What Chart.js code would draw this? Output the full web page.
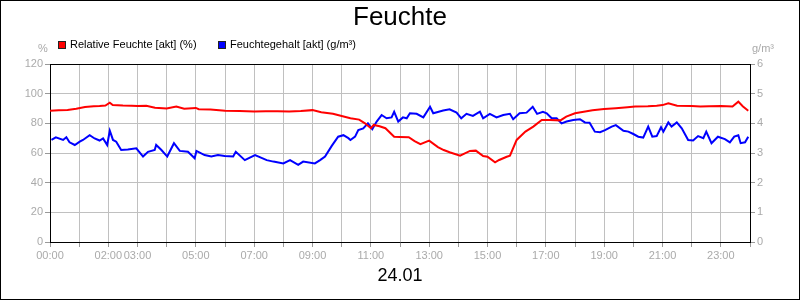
<!DOCTYPE html>
<html>
<head>
<meta charset="utf-8">
<script src="https://cdn.jsdelivr.net/npm/chart.js@4/dist/chart.umd.min.js"></script>
<style>
  html, body { margin: 0; padding: 0; background: #fff; }
  #wrap { width: 800px; height: 300px; }
</style>
</head>
<body>
<div id="wrap"><canvas id="c" width="800" height="300"></canvas></div>
<script>
// ---- Data ----
const titleText = 'Feuchte';
const dateLabel = '24.01';
const rhLabel = 'Relative Feuchte [akt] (%)';
const ahLabel = 'Feuchtegehalt [akt] (g/m³)';
const leftUnit = '%';
const rightUnit = 'g/m³';

// time in hours of day
const rhHours = [0.0,0.3,0.6,0.9,1.2,1.5,1.7,1.9,2.05,2.15,2.5,2.8,3.0,3.3,3.6,4.0,4.33,4.6,5.0,5.1,5.5,6.0,6.5,7.0,7.4,7.8,8.2,8.6,9.0,9.3,9.7,10.0,10.3,10.6,10.8,11.0,11.1,11.3,11.5,11.8,12.0,12.3,12.5,12.7,13.0,13.3,13.5,13.7,14.06,14.4,14.6,14.85,15.0,15.26,15.4,15.66,15.77,16.0,16.3,16.57,16.86,17.14,17.5,17.7,18.0,18.3,18.6,19.0,19.4,19.8,20.06,20.5,20.8,21.0,21.2,21.5,22.0,22.3,22.6,23.0,23.4,23.6,23.75,23.94];
const rhValues = [88.5,88.8,89.0,89.8,91.0,91.5,91.7,92.0,93.9,92.4,92.0,91.8,91.7,91.8,90.5,90.0,91.3,89.8,90.4,89.5,89.3,88.5,88.3,88.0,88.1,88.2,88.0,88.3,88.9,87.5,86.5,85.0,83.4,82.5,80.0,76.7,78.9,78.0,76.7,71.0,70.8,70.6,68.0,65.9,68.3,64.0,62.0,60.5,58.2,61.4,61.6,58.0,57.5,53.7,55.3,57.5,58.2,68.8,74.4,77.8,82.3,82.3,82.0,84.5,86.8,87.8,88.8,89.7,90.2,90.8,91.3,91.5,91.9,92.3,93.5,91.8,91.7,91.3,91.5,91.7,91.3,94.6,91.5,88.5];

const ahHours = [0.05,0.2,0.45,0.56,0.67,0.85,1.02,1.13,1.36,1.53,1.7,1.82,1.96,2.05,2.16,2.27,2.44,2.67,2.96,3.19,3.36,3.59,3.64,3.82,4.02,4.25,4.45,4.73,4.96,5.02,5.3,5.53,5.76,5.99,6.28,6.37,6.68,7.03,7.43,7.66,8.0,8.23,8.51,8.68,9.08,9.26,9.43,9.66,9.88,10.06,10.23,10.3,10.46,10.57,10.74,10.9,11.05,11.2,11.37,11.54,11.71,11.8,11.94,12.1,12.23,12.34,12.57,12.8,13.03,13.14,13.48,13.7,13.94,14.1,14.28,14.5,14.74,14.85,15.08,15.31,15.54,15.77,15.88,16.1,16.34,16.55,16.7,16.9,17.03,17.2,17.37,17.54,17.71,17.94,18.17,18.34,18.5,18.68,18.86,19.03,19.26,19.4,19.66,19.83,20.0,20.17,20.34,20.51,20.65,20.8,20.95,21.03,21.2,21.31,21.49,21.66,21.88,22.05,22.22,22.4,22.5,22.68,22.9,23.14,23.31,23.46,23.6,23.68,23.83,23.94];
const ahValues = [3.44,3.53,3.44,3.53,3.36,3.27,3.38,3.44,3.6,3.49,3.42,3.49,3.27,3.75,3.44,3.38,3.1,3.12,3.16,2.88,3.04,3.1,3.27,3.1,2.88,3.33,3.07,3.04,2.82,3.07,2.93,2.88,2.93,2.9,2.88,3.04,2.76,2.93,2.76,2.71,2.65,2.76,2.6,2.71,2.65,2.76,2.88,3.24,3.55,3.6,3.5,3.44,3.55,3.77,3.83,4.0,3.8,4.06,4.28,4.17,4.2,4.39,4.06,4.2,4.17,4.34,4.32,4.2,4.56,4.34,4.43,4.47,4.36,4.17,4.32,4.25,4.39,4.17,4.32,4.2,4.28,4.32,4.14,4.34,4.36,4.56,4.32,4.39,4.34,4.17,4.17,4.0,4.06,4.11,4.14,4.03,4.02,3.72,3.7,3.77,3.89,3.94,3.75,3.72,3.64,3.55,3.52,3.89,3.55,3.57,3.87,3.72,4.03,3.89,4.03,3.83,3.44,3.42,3.57,3.5,3.72,3.33,3.55,3.47,3.36,3.55,3.6,3.33,3.36,3.55];

const timeTickHours = [0,2,3,5,7,9,11,13,15,17,19,21,23];
const leftTicks = [0,20,40,60,80,100,120];
const rightTicks = [0,1,2,3,4,5,6];

// ---- Styles ----
const FONT = '"Liberation Sans", Arial, sans-serif';
const TICK_COLOR = '#aaaaaa';
const GRID_COLOR = '#c0c0c0';

function pairs(xs, ys) { return xs.map((x, i) => ({ x: x, y: ys[i] })); }
function hh(h) { return (h < 10 ? '0' : '') + h + ':00'; }

const decor = {
  id: 'decor',
  afterDraw(chart) {
    const ctx = chart.ctx;
    const a = chart.chartArea;
    ctx.save();
    ctx.strokeStyle = '#000';
    ctx.lineWidth = 1;
    ctx.beginPath();
    ctx.moveTo(a.left, Math.round(a.top) + 0.5);
    ctx.lineTo(a.right, Math.round(a.top) + 0.5);
    ctx.stroke();
    ctx.strokeRect(0.5, 0.5, chart.width - 1, chart.height - 1);

    ctx.fillStyle = '#000';
    ctx.textAlign = 'center';
    ctx.textBaseline = 'middle';
    ctx.font = '26px ' + FONT;
    ctx.fillText(titleText, 400, 18);
    ctx.font = '18px ' + FONT;
    ctx.fillText(dateLabel, 400, 276);

    // legend
    const items = [{ x: 58, ds: chart.data.datasets[0] }, { x: 218, ds: chart.data.datasets[1] }];
    ctx.font = '11px ' + FONT;
    ctx.textAlign = 'left';
    items.forEach(it => {
      ctx.fillStyle = it.ds.borderColor;
      ctx.fillRect(it.x, 41, 8, 8);
      ctx.strokeStyle = '#222';
      ctx.strokeRect(it.x + 0.5, 41.5, 7, 7);
      ctx.fillStyle = '#000';
      ctx.fillText(it.ds.label, it.x + 12, 45);
    });

    // units
    ctx.fillStyle = TICK_COLOR;
    ctx.font = '11px ' + FONT;
    ctx.textAlign = 'center';
    ctx.fillText(leftUnit, 43, 49);
    ctx.fillText(rightUnit, 763, 49);
    ctx.restore();
  }
};

new Chart(document.getElementById('c'), {
  type: 'line',
  data: {
    datasets: [
      { label: rhLabel, data: pairs(rhHours, rhValues), yAxisID: 'y', borderColor: '#ff0000', backgroundColor: '#ff0000', borderWidth: 2, pointRadius: 0, tension: 0 },
      { label: ahLabel, data: pairs(ahHours, ahValues), yAxisID: 'y1', borderColor: '#0000ff', backgroundColor: '#0000ff', borderWidth: 2, pointRadius: 0, tension: 0 }
    ]
  },
  options: {
    responsive: false,
    animation: false,
    devicePixelRatio: 1,
    layout: { padding: { top: 64, left: 0, right: 0, bottom: 0 } },
    plugins: { legend: { display: false }, title: { display: false }, tooltip: { enabled: false } },
    scales: {
      x: {
        type: 'linear', min: 0, max: 24, position: 'bottom',
        afterFit(s) { s.height = 58; },
        afterBuildTicks(s) { s.ticks = Array.from({ length: 25 }, (_, i) => ({ value: i })); },
        ticks: {
          autoSkip: false, maxRotation: 0, minRotation: 0, padding: 2,
          color: TICK_COLOR, font: { family: FONT, size: 11 },
          callback: (v) => timeTickHours.includes(v) ? hh(v) : ''
        },
        grid: { color: GRID_COLOR, tickColor: '#999', tickLength: 5, lineWidth: 1 },
        border: { color: '#000', width: 1 }
      },
      y: {
        position: 'left', min: 0, max: 120,
        afterFit(s) { s.width = 50; },
        afterBuildTicks(s) { s.ticks = leftTicks.map(v => ({ value: v })); },
        ticks: { color: TICK_COLOR, font: { family: FONT, size: 11 }, padding: 2 },
        grid: { color: GRID_COLOR, tickColor: '#999', tickLength: 5 },
        border: { color: '#000', width: 1 }
      },
      y1: {
        position: 'right', min: 0, max: 6,
        afterFit(s) { s.width = 50; },
        afterBuildTicks(s) { s.ticks = rightTicks.map(v => ({ value: v })); },
        ticks: { color: TICK_COLOR, font: { family: FONT, size: 11 }, padding: 2 },
        grid: { drawOnChartArea: false, tickColor: '#999', tickLength: 5 },
        border: { color: '#000', width: 1 }
      }
    }
  },
  plugins: [decor]
});
</script>
</body>
</html>
